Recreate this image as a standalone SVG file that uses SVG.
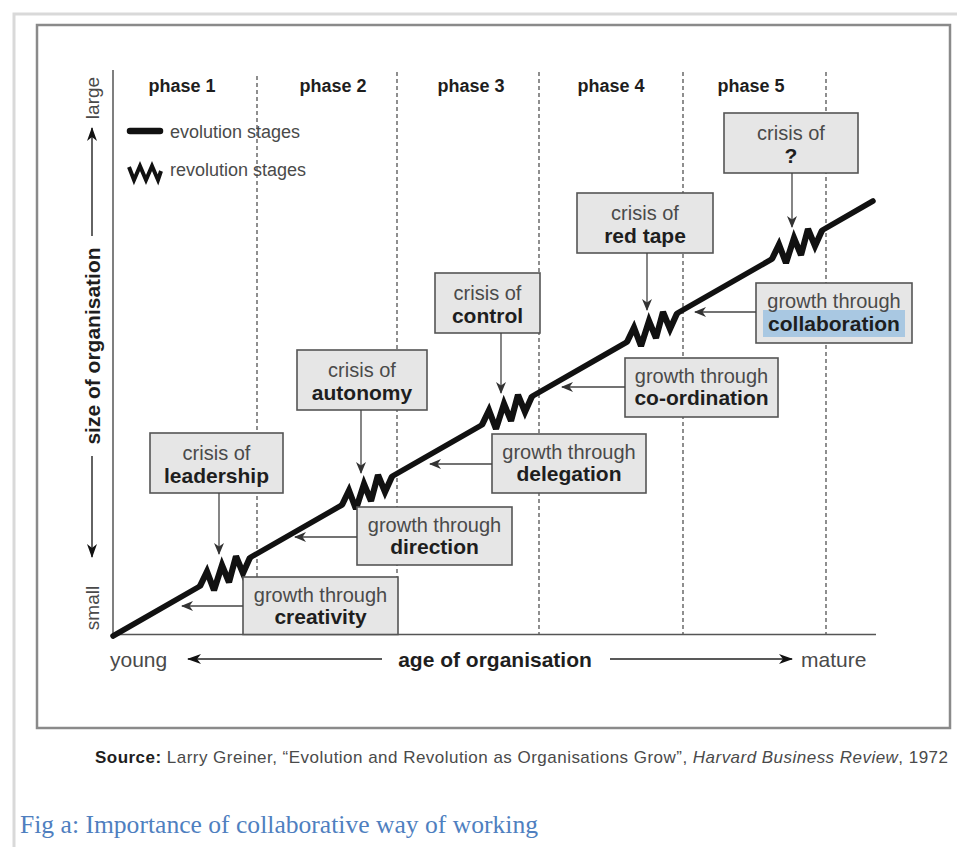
<svg xmlns="http://www.w3.org/2000/svg" width="957" height="847" viewBox="0 0 957 847">
  <defs>
    <style>
      .reg { font-family: "Liberation Sans", Arial, sans-serif; fill: #4a4a4a; }
      .bold { font-family: "Liberation Sans", Arial, sans-serif; font-weight: bold; fill: #1e1e1e; }
      .box { fill: #e6e6e6; stroke: #555; stroke-width: 1.6; }
      .phase { stroke: #333; stroke-width: 1.1; stroke-dasharray: 4 3; fill: none; }
      .evo { stroke: #111; stroke-width: 5.5; fill: none; stroke-linecap: round; }
      .rev { stroke: #111; stroke-width: 6.2; fill: none; stroke-linejoin: miter; stroke-miterlimit: 3; }
      .conn { stroke: #444; stroke-width: 1.3; fill: none; marker-end: url(#ah); }
      .axis-arrow { stroke: #222; stroke-width: 1.4; fill: none; marker-end: url(#big); }
      .t-box { font-size: 20px; text-anchor: middle; }
      .b-box { font-size: 21px; text-anchor: middle; }
    </style>
    <marker id="ah" viewBox="0 0 12 10" refX="11" refY="5" markerWidth="12" markerHeight="10" orient="auto" markerUnits="userSpaceOnUse">
      <path d="M0,0 L12,5 L0,10 L3.5,5 z" fill="#333"/>
    </marker>
    <marker id="big" viewBox="0 0 14 10" refX="13" refY="5" markerWidth="14" markerHeight="10" orient="auto" markerUnits="userSpaceOnUse">
      <path d="M0,0 L14,5 L0,10 L4,5 z" fill="#111"/>
    </marker>
    <!-- revolution zigzag, centred on a point of the growth line -->
    <path id="zz" d="M-28,16 L-21,1.5 L-14,20 L-6,-5 L1,12 L8,-14 L15,3 L22,-12.6"/>
  </defs>

  <rect width="957" height="847" fill="#fff"/>
  <!-- page frame -->
  <path d="M14,847 V14 H957" fill="none" stroke="#d9d9d9" stroke-width="3"/>
  <!-- figure frame -->
  <rect x="37" y="25" width="913" height="703" fill="#fff" stroke="#8a8a8a" stroke-width="2.5"/>

  <!-- phase dividers -->
  <g id="phases">
    <line class="phase" x1="257" y1="76" x2="257" y2="634"/>
    <line class="phase" x1="397" y1="72" x2="397" y2="634"/>
    <line class="phase" x1="539" y1="72" x2="539" y2="634"/>
    <line class="phase" x1="683" y1="72" x2="683" y2="634"/>
    <line class="phase" x1="826" y1="72" x2="826" y2="634"/>
    <text class="bold" x="182" y="92" font-size="18" text-anchor="middle">phase 1</text>
    <text class="bold" x="333" y="92" font-size="18" text-anchor="middle">phase 2</text>
    <text class="bold" x="471" y="92" font-size="18" text-anchor="middle">phase 3</text>
    <text class="bold" x="611" y="92" font-size="18" text-anchor="middle">phase 4</text>
    <text class="bold" x="751" y="92" font-size="18" text-anchor="middle">phase 5</text>
  </g>

  <!-- axes -->
  <g id="axes">
    <line x1="113" y1="70" x2="113" y2="634.5" stroke="#555" stroke-width="1.5"/>
    <line x1="113" y1="634.5" x2="876" y2="634.5" stroke="#555" stroke-width="1.5"/>
    <text class="reg" font-size="19" text-anchor="middle" transform="translate(99,98) rotate(-90)">large</text>
    <text class="reg" font-size="19" text-anchor="middle" transform="translate(99,608) rotate(-90)">small</text>
    <text class="bold" font-size="21" text-anchor="middle" transform="translate(100,346) rotate(-90)">size of organisation</text>
    <line class="axis-arrow" x1="92" y1="236" x2="92" y2="128"/>
    <line class="axis-arrow" x1="92" y1="456" x2="92" y2="557"/>
    <text class="reg" x="110" y="667" font-size="21">young</text>
    <text class="bold" x="495" y="667" font-size="21" text-anchor="middle">age of organisation</text>
    <text class="reg" x="801" y="667" font-size="21">mature</text>
    <line class="axis-arrow" x1="382" y1="659" x2="188" y2="659"/>
    <line class="axis-arrow" x1="610" y1="659" x2="792" y2="659"/>
  </g>

  <!-- legend -->
  <g id="legend">
    <line x1="130" y1="131" x2="160" y2="131" stroke="#111" stroke-width="6.5" stroke-linecap="round"/>
    <text class="reg" x="170" y="138" font-size="18">evolution stages</text>
    <path d="M129,167 L134,180 L140,166 L146,180 L152,166 L158,180 L161,171" stroke="#111" stroke-width="4" fill="none"/>
    <text class="reg" x="170" y="176" font-size="18">revolution stages</text>
  </g>

  <!-- growth line: evolution segments and revolution zigzags -->
  <g id="growth-line">
    <path class="evo" d="M113,636 L200,586.2 M250,557.6 L342,505 M392,476.4 L482,424.9 M532,396.3 L627,342 M677,313.4 L772,259 M822,230.4 L873,201"/>
    <use href="#zz" class="rev" x="228" y="570.2"/>
    <use href="#zz" class="rev" x="370" y="489"/>
    <use href="#zz" class="rev" x="510" y="408.9"/>
    <use href="#zz" class="rev" x="655" y="326"/>
    <use href="#zz" class="rev" x="800" y="243"/>
  </g>

  <!-- crisis boxes -->
  <g id="crisis-leadership">
    <rect class="box" x="150" y="433" width="133" height="60"/>
    <text class="reg t-box" x="216.5" y="460">crisis of</text>
    <text class="bold b-box" x="216.5" y="483">leadership</text>
  </g>
  <g id="crisis-autonomy">
    <rect class="box" x="297" y="350" width="130" height="60"/>
    <text class="reg t-box" x="362" y="377">crisis of</text>
    <text class="bold b-box" x="362" y="400">autonomy</text>
  </g>
  <g id="crisis-control">
    <rect class="box" x="435" y="273" width="105" height="60"/>
    <text class="reg t-box" x="487.5" y="300">crisis of</text>
    <text class="bold b-box" x="487.5" y="323">control</text>
  </g>
  <g id="crisis-red-tape">
    <rect class="box" x="577" y="193" width="136" height="60"/>
    <text class="reg t-box" x="645" y="220">crisis of</text>
    <text class="bold b-box" x="645" y="243">red tape</text>
  </g>
  <g id="crisis-unknown">
    <rect class="box" x="724" y="113" width="134" height="60"/>
    <text class="reg t-box" x="791" y="140">crisis of</text>
    <text class="bold b-box" x="791" y="163">?</text>
  </g>

  <!-- growth boxes -->
  <g id="growth-creativity">
    <rect class="box" x="243" y="577" width="155" height="57.5"/>
    <text class="reg t-box" x="320.5" y="602">growth through</text>
    <text class="bold b-box" x="320.5" y="624">creativity</text>
  </g>
  <g id="growth-direction">
    <rect class="box" x="357" y="507" width="155" height="58"/>
    <text class="reg t-box" x="434.5" y="532">growth through</text>
    <text class="bold b-box" x="434.5" y="554">direction</text>
  </g>
  <g id="growth-delegation">
    <rect class="box" x="492" y="434" width="154" height="59"/>
    <text class="reg t-box" x="569" y="459">growth through</text>
    <text class="bold b-box" x="569" y="481">delegation</text>
  </g>
  <g id="growth-coordination">
    <rect class="box" x="625" y="358" width="153" height="59"/>
    <text class="reg t-box" x="701.5" y="383">growth through</text>
    <text class="bold b-box" x="701.5" y="405">co-ordination</text>
  </g>
  <g id="growth-collaboration">
    <rect class="box" x="756" y="283" width="156" height="60"/>
    <rect x="763" y="310" width="142" height="27" fill="#a9c8e2"/>
    <text class="reg t-box" x="834" y="308">growth through</text>
    <text class="bold b-box" x="834" y="331">collaboration</text>
  </g>

  <!-- connectors -->
  <g id="connectors">
    <line class="conn" x1="219" y1="493" x2="219" y2="554"/>
    <line class="conn" x1="361" y1="410" x2="361" y2="473"/>
    <line class="conn" x1="501" y1="333" x2="501" y2="393"/>
    <line class="conn" x1="647" y1="253" x2="647" y2="310"/>
    <line class="conn" x1="792" y1="173" x2="792" y2="227"/>
    <line class="conn" x1="243" y1="606" x2="182" y2="606"/>
    <line class="conn" x1="357" y1="537" x2="295" y2="537"/>
    <line class="conn" x1="492" y1="464" x2="430" y2="464"/>
    <line class="conn" x1="625" y1="387" x2="562" y2="387"/>
    <line class="conn" x1="756" y1="312" x2="695" y2="312"/>
  </g>

  <!-- source and caption -->
  <text class="reg" x="95" y="763" font-size="17" fill="#333" textLength="853" lengthAdjust="spacing"><tspan class="bold" fill="#111">Source:</tspan> Larry Greiner, “Evolution and Revolution as Organisations Grow”, <tspan font-style="italic">Harvard Business Review</tspan>, 1972</text>
  <text x="20" y="833" font-family="'Liberation Serif', 'Times New Roman', serif" font-size="25" fill="#4f7fbf" textLength="518" lengthAdjust="spacingAndGlyphs">Fig a: Importance of collaborative way of working</text>
</svg>
